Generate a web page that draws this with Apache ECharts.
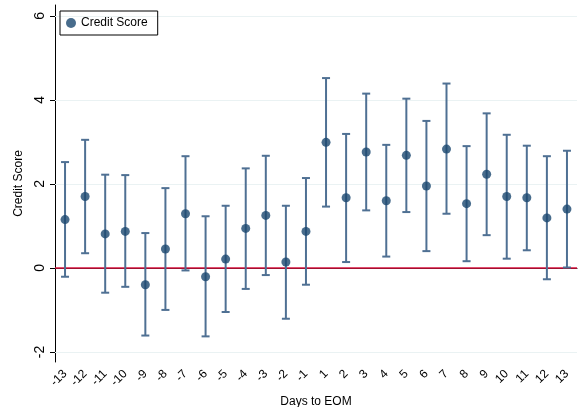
<!DOCTYPE html>
<html>
<head>
<meta charset="utf-8">
<script src="https://cdn.jsdelivr.net/npm/echarts@6/dist/echarts.min.js"></script>
<style>
  html, body { margin: 0; padding: 0; background: #fff; }
  #chart { width: 581px; height: 407px; }
</style>
</head>
<body>
<div id="chart"></div>
<script>
// days relative to end of month
const days = ["-13", "-12", "-11", "-10", "-9", "-8", "-7", "-6", "-5", "-4", "-3", "-2", "-1",
  "1", "2", "3", "4", "5", "6", "7", "8", "9", "10", "11", "12", "13"];
// point estimates
const estimate = [1.15, 1.70, 0.81, 0.87, -0.40, 0.45, 1.29, -0.21, 0.21, 0.94, 1.25, 0.14, 0.87,
  2.99, 1.67, 2.76, 1.60, 2.68, 1.95, 2.83, 1.53, 2.23, 1.70, 1.67, 1.19, 1.40];
// confidence interval bounds
const lower = [-0.21, 0.35, -0.59, -0.45, -1.61, -1.00, -0.06, -1.63, -1.05, -0.50, -0.17, -1.21, -0.40,
  1.46, 0.14, 1.37, 0.27, 1.33, 0.40, 1.29, 0.16, 0.78, 0.22, 0.42, -0.27, 0.01];
const upper = [2.52, 3.05, 2.22, 2.21, 0.83, 1.90, 2.66, 1.23, 1.48, 2.37, 2.67, 1.48, 2.14,
  4.52, 3.19, 4.15, 2.93, 4.03, 3.50, 4.39, 2.90, 3.68, 3.17, 2.91, 2.66, 2.79];
const yTicks = [-2, 0, 2, 4, 6];
const gridValues = [-2, 2, 4, 6];

const chart = echarts.init(document.getElementById("chart"));

const navy = "#1a476f";
const barColor = "#4f7093";

const option = {
  animation: false,
  textStyle: { fontFamily: "Liberation Sans, Arial, sans-serif" },
  grid: { left: 55, right: 4, top: 5, bottom: 45, outerBoundsMode: "none" },
  legend: {
    left: 60,
    top: 11,
    data: [{ name: "Credit Score", icon: "circle" }],
    itemWidth: 10,
    itemHeight: 10,
    itemGap: 0,
    padding: [6, 10, 6, 6],
    borderColor: "#000",
    borderWidth: 1,
    borderRadius: 0,
    textStyle: { fontSize: 12, color: "#000" }
  },
  xAxis: {
    type: "category",
    data: days,
    boundaryGap: true,
    name: "Days to EOM",
    nameLocation: "middle",
    nameGap: 32,
    nameTextStyle: { fontSize: 12, color: "#000" },
    axisLine: { lineStyle: { color: "#000", width: 1 } },
    axisTick: { alignWithLabel: true, length: 5, lineStyle: { color: "#000" } },
    axisLabel: { rotate: 45, fontSize: 12, color: "#000", margin: 10, interval: 0 },
    splitLine: { show: false }
  },
  yAxis: {
    type: "value",
    min: -2.24,
    max: 6.26,
    name: "Credit Score",
    nameLocation: "middle",
    nameGap: 26,
    nameTextStyle: { fontSize: 12, color: "#000" },
    axisLine: { show: true, lineStyle: { color: "#000", width: 1 } },
    axisTick: { show: true, length: 5, customValues: yTicks, lineStyle: { color: "#000" } },
    axisLabel: { rotate: 90, fontSize: 14, color: "#000", margin: 8, customValues: yTicks },
    splitLine: { show: false }
  },
  series: [
    {
      name: "CI",
      type: "custom",
      z: 2,
      silent: true,
      data: days.map((d, i) => [i, lower[i], upper[i]]),
      renderItem: function (params, api) {
        const x = api.value(0);
        const lo = api.coord([x, api.value(1)]);
        const hi = api.coord([x, api.value(2)]);
        const cap = 4;
        const style = { stroke: barColor, lineWidth: 2 };
        return {
          type: "group",
          children: [
            { type: "line", shape: { x1: lo[0], y1: lo[1], x2: hi[0], y2: hi[1] }, style: style },
            { type: "line", shape: { x1: lo[0] - cap, y1: lo[1], x2: lo[0] + cap, y2: lo[1] }, style: style },
            { type: "line", shape: { x1: hi[0] - cap, y1: hi[1], x2: hi[0] + cap, y2: hi[1] }, style: style }
          ]
        };
      }
    },
    {
      name: "Credit Score",
      type: "scatter",
      z: 3,
      symbol: "circle",
      symbolSize: 9,
      itemStyle: { color: navy },
      data: estimate,
      markLine: {
        silent: true,
        symbol: "none",
        label: { show: false },
        z: 1,
        data: gridValues.map(v => ({ yAxis: v, lineStyle: { color: "#eaf2f3", width: 1, type: "solid" } }))
          .concat([{ yAxis: 0, lineStyle: { color: "#d8143f", width: 1.5, type: "solid" } }])
      }
    }
  ]
};

chart.setOption(option);
</script>
</body>
</html>
